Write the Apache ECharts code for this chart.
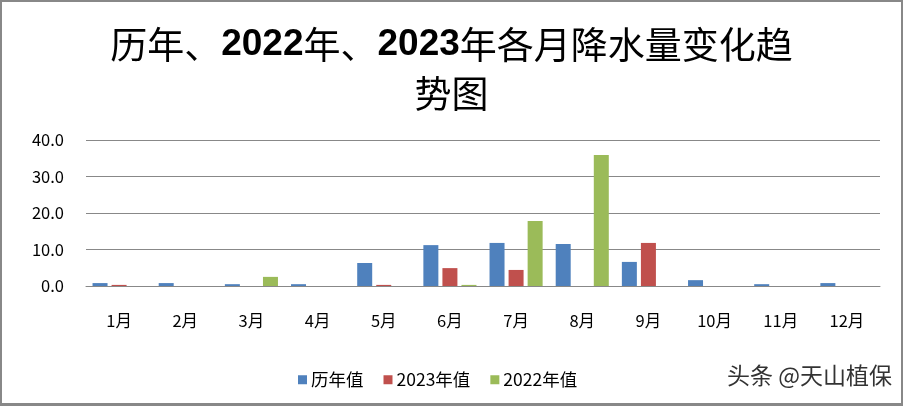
<!DOCTYPE html>
<html><head><meta charset="utf-8">
<script src="https://cdn.jsdelivr.net/npm/echarts@6/dist/echarts.min.js"></script>
<style>
html,body{margin:0;padding:0;background:#fff;}
#c{position:absolute;left:0;top:0;width:899px;height:401px;border:2px solid #888;border-bottom-width:3px;background:#fff;}
</style></head>
<body><div id="c"></div>
<script>
const months = ['1月','2月','3月','4月','5月','6月','7月','8月','9月','10月','11月','12月'];
const seriesNames = ['历年值','2023年值','2022年值'];
const histValues = [0.8,0.8,0.5,0.5,6.3,11.2,11.8,11.5,6.6,1.6,0.5,0.8];
const y2023Values = [0.3,0,0,0,0.3,4.9,4.4,0,11.8,0,0,0];
const y2022Values = [0,0,2.5,0,0,0.3,17.8,35.9,0,0,0,0];
const colors = ['#4F81BD','#C0504D','#9BBB59'];
const font = '"Noto Sans CJK SC","Noto Sans",sans-serif';

const chart = echarts.init(document.getElementById('c'));
chart.setOption({
  animation:false,
  color:colors,
  title:{
    text:'{a|历年、}{b|2022}{a|年、}{b|2023}{a|年各月降水量变化趋}\n{a|势图}',
    left:'center', top:13,
    textStyle:{
      rich:{
        a:{fontFamily:font,fontSize:37,color:'#000',lineHeight:49,fontWeight:'normal'},
        b:{fontFamily:'"Liberation Sans Narrow","Liberation Sans",sans-serif',fontSize:37,color:'#000',lineHeight:49,fontWeight:'bold'}
      }
    }
  },
  legend:{
    data:seriesNames, left:291, top:364,
    itemWidth:9, itemHeight:9, itemGap:20, icon:'rect',
    textStyle:{fontFamily:font,fontSize:17.5,color:'#000',padding:[0,0,0,-1]}
  },
  grid:{left:84,right:21,top:138,bottom:117},
  xAxis:{
    type:'category', data:months,
    axisLine:{lineStyle:{color:'#888',width:1}},
    axisTick:{show:false},
    axisLabel:{fontFamily:font,fontSize:16.5,color:'#000',margin:26}
  },
  yAxis:{
    type:'value', min:0, max:40, interval:10,
    axisLine:{show:false}, axisTick:{show:false},
    splitLine:{lineStyle:{color:'#888',width:1}},
    axisLabel:{fontFamily:font,fontSize:16.5,color:'#000',margin:22,formatter:v=>v.toFixed(1)}
  },
  series:[
    {name:seriesNames[0],type:'bar',data:histValues,barWidth:15,barGap:'27%'},
    {name:seriesNames[1],type:'bar',data:y2023Values,barWidth:15,barGap:'27%'},
    {name:seriesNames[2],type:'bar',data:y2022Values,barWidth:15,barGap:'27%'}
  ],
  graphic:[{
    type:'text', right:8, top:361,
    style:{text:'头条 @天山植保',fontFamily:font,fontSize:23,fill:'#333',stroke:'#fff',lineWidth:2}
  }]
});
</script></body></html>
